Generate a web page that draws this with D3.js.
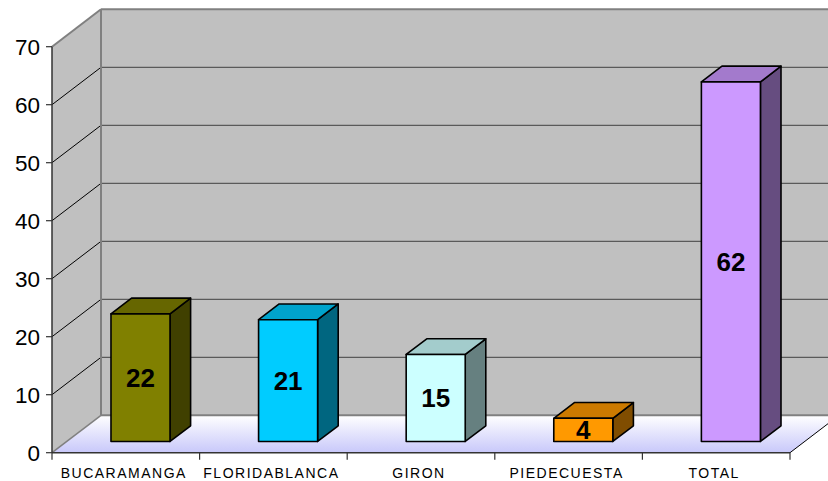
<!DOCTYPE html>
<html>
<head>
<meta charset="utf-8">
<script src="https://cdn.jsdelivr.net/npm/d3@7"></script>
<style>
  html, body { margin: 0; padding: 0; background: #fff; }
  svg { display: block; }
  text { font-family: Arial, "Liberation Sans", sans-serif; }
</style>
</head>
<body>
<svg id="chart" width="828" height="481"></svg>
<script>
// Data
const categories = ["BUCARAMANGA", "FLORIDABLANCA", "GIRON", "PIEDECUESTA", "TOTAL"];
const values = [22, 21, 15, 4, 62];
const barColors = ["#808000", "#00ccff", "#ccffff", "#ff9900", "#cc99ff"];
const yTicks = [0, 10, 20, 30, 40, 50, 60, 70];

const svg = d3.select("#chart");

// Front plane of the plot box and the depth vector of the 3D box
const plotLeft = 52, plotRight = 790, plotBottom = 452.7, plotTop = 46.7;
const DX = 49, DY = 37.4;
const frontDepth = 0.30, backDepth = 0.72;

const x = d3.scaleBand().domain(categories).range([plotLeft, plotRight])
  .paddingInner(0.6).paddingOuter(0.3);
const xEdge = d3.scaleLinear().domain([0, categories.length]).range([plotLeft, plotRight]);
const y = d3.scaleLinear().domain([0, 70]).range([plotBottom, plotTop]);

// project a front-plane point back by depth fraction d
const P = (px, py, d) => [px + d * DX, py - d * DY];
const pts = arr => arr.map(p => p.join(",")).join(" ");

const shade = (c, k) => { const r = d3.rgb(c); return d3.rgb(r.r * k, r.g * k, r.b * k).formatHex(); };

// Floor gradient
const defs = svg.append("defs");
const grad = defs.append("linearGradient").attr("id", "floorGrad")
  .attr("x1", 0).attr("y1", 0).attr("x2", 0).attr("y2", 1);
grad.append("stop").attr("offset", "0%").attr("stop-color", "#ffffff");
grad.append("stop").attr("offset", "100%").attr("stop-color", "#c8c8fa");

// Back wall
svg.append("polygon")
  .attr("points", pts([P(plotLeft, y(70), 1), P(plotRight, y(70), 1), P(plotRight, y(0), 1), P(plotLeft, y(0), 1)]))
  .attr("fill", "#c0c0c0");
// Side wall
svg.append("polygon")
  .attr("points", pts([[plotLeft, y(0)], [plotLeft, y(70)], P(plotLeft, y(70), 1), P(plotLeft, y(0), 1)]))
  .attr("fill", "#c0c0c0");
// Floor
svg.append("polygon")
  .attr("points", pts([[plotLeft, y(0)], [plotRight, y(0)], P(plotRight, y(0), 1), P(plotLeft, y(0), 1)]))
  .attr("fill", "url(#floorGrad)");

// Gridlines on the walls
yTicks.filter(t => t > 0 && t < 70).forEach(t => {
  const b0 = P(plotLeft, y(t), 1), b1 = P(plotRight, y(t), 1);
  svg.append("line").attr("x1", b0[0]).attr("y1", b0[1]).attr("x2", b1[0]).attr("y2", b1[1])
    .attr("stroke", "#5a5a5a").attr("stroke-width", 1.3);
  svg.append("line").attr("x1", plotLeft).attr("y1", y(t)).attr("x2", b0[0]).attr("y2", b0[1])
    .attr("stroke", "#000").attr("stroke-width", 1);
});

// Wall borders
const wallStroke = "#808080";
const border = (a, b, c, w) => svg.append("line")
  .attr("x1", a[0]).attr("y1", a[1]).attr("x2", b[0]).attr("y2", b[1])
  .attr("stroke", c).attr("stroke-width", w);
border([plotLeft, y(70)], P(plotLeft, y(70), 1), wallStroke, 2);
border(P(plotLeft, y(70), 1), P(plotRight, y(70), 1), wallStroke, 2);
border(P(plotLeft, y(70), 1), P(plotLeft, y(0), 1), wallStroke, 2);
border(P(plotLeft, y(0), 1), P(plotRight, y(0), 1), wallStroke, 2);
border([plotLeft, y(0)], P(plotLeft, y(0), 1), wallStroke, 1.5);
border([plotRight, y(0)], P(plotRight, y(0), 1), "#000", 1);

// Bars
const bars = svg.append("g");
categories.forEach((c, i) => {
  const v = values[i], col = barColors[i];
  const x0 = x(c), x1 = x(c) + x.bandwidth();
  const f = [P(x0, y(v), frontDepth), P(x1, y(v), frontDepth), P(x1, y(0), frontDepth), P(x0, y(0), frontDepth)];
  const topFace = [P(x0, y(v), frontDepth), P(x0, y(v), backDepth), P(x1, y(v), backDepth), P(x1, y(v), frontDepth)];
  const side = [P(x1, y(v), frontDepth), P(x1, y(v), backDepth), P(x1, y(0), backDepth), P(x1, y(0), frontDepth)];
  const g = bars.append("g").attr("stroke", "#000").attr("stroke-width", 1.6).attr("stroke-linejoin", "round");
  g.append("polygon").attr("points", pts(side)).attr("fill", shade(col, 0.5));
  g.append("polygon").attr("points", pts(topFace)).attr("fill", shade(col, 0.8));
  g.append("polygon").attr("points", pts(f)).attr("fill", col);
  // value label centred on the front face
  const cx = (f[0][0] + f[1][0]) / 2, cy = (f[0][1] + f[2][1]) / 2;
  svg.append("text").attr("x", cx).attr("y", cy + 9.5)
    .attr("text-anchor", "middle").attr("font-size", 26).attr("font-weight", "bold")
    .attr("fill", "#000").text(v);
});

// Front axis lines
border([plotLeft, y(0)], [plotLeft, y(70)], "#333", 1.5);
border([plotLeft, y(0)], [plotRight, y(0)], "#333", 1.5);

// Y ticks and labels
yTicks.forEach(t => {
  svg.append("line").attr("x1", plotLeft - 6).attr("x2", plotLeft).attr("y1", y(t)).attr("y2", y(t))
    .attr("stroke", "#333").attr("stroke-width", 1.2);
  svg.append("text").attr("x", 40).attr("y", y(t) + 8)
    .attr("text-anchor", "end").attr("font-size", 22.5).attr("fill", "#000").text(t);
});

// Category ticks and labels
d3.range(categories.length + 1).forEach(k => {
  svg.append("line").attr("x1", xEdge(k)).attr("x2", xEdge(k)).attr("y1", y(0)).attr("y2", y(0) + 7)
    .attr("stroke", "#333").attr("stroke-width", 1.2);
});
categories.forEach(c => {
  svg.append("text").attr("x", x(c) + x.bandwidth() / 2 - 2).attr("y", 478)
    .attr("text-anchor", "middle").attr("font-size", 14).attr("letter-spacing", 1.5)
    .attr("fill", "#000").text(c);
});
</script>
</body>
</html>
